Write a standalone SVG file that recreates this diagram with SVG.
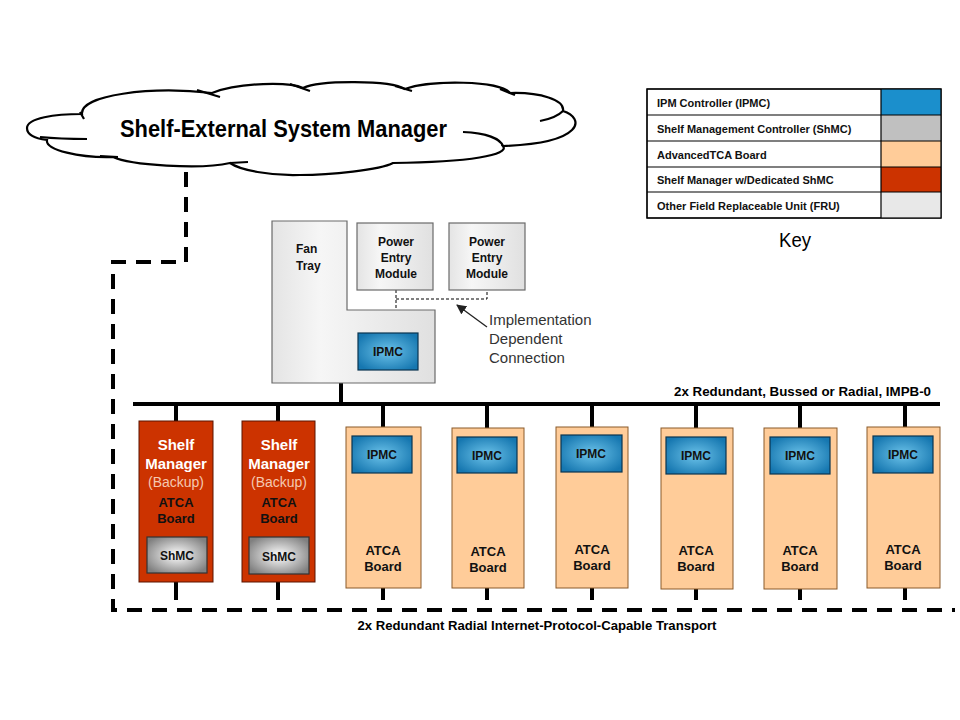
<svg xmlns="http://www.w3.org/2000/svg" width="960" height="720" viewBox="0 0 960 720">
<style>
text{font-family:"Liberation Sans",Arial,sans-serif;}
.b{font-weight:bold;}
.c{text-anchor:middle;}
.key{font-size:11px;font-weight:bold;fill:#111;}
.wire{stroke:#000;stroke-width:4;fill:none;}
.dash{stroke:#000;stroke-width:4;fill:none;stroke-dasharray:15 10;}
.thin{stroke:#000;stroke-width:1;fill:none;stroke-dasharray:3 2;}
.board{fill:#ffcc99;stroke:#8a5a2a;stroke-width:1;}
.sm{fill:#cc3300;stroke:#5a1500;stroke-width:1;}
.ipmc{fill:url(#gBlue);stroke:#0b3550;stroke-width:1.2;}
.shmc{fill:url(#gGray);stroke:#333;stroke-width:1.2;}
.fru{fill:url(#gFru);stroke:#6a6a6a;stroke-width:1.2;}
.lbl{font-size:12px;font-weight:bold;fill:#111;}
.atca{font-size:13px;font-weight:bold;fill:#111;text-anchor:middle;}
</style>
<defs>
<radialGradient id="gBlue" cx="50%" cy="50%" r="60%">
<stop offset="0" stop-color="#6cc3ea"/>
<stop offset="1" stop-color="#1677b0"/>
</radialGradient>
<radialGradient id="gGray" cx="50%" cy="50%" r="60%">
<stop offset="0" stop-color="#ffffff"/>
<stop offset="1" stop-color="#808080"/>
</radialGradient>
<linearGradient id="gFru" x1="0" y1="0" x2="1" y2="0">
<stop offset="0" stop-color="#e4e4e4"/>
<stop offset="0.3" stop-color="#f6f6f6"/>
<stop offset="1" stop-color="#e0e0e0"/>
</linearGradient>
<marker id="arr" markerWidth="10" markerHeight="10" refX="9" refY="5" orient="auto" markerUnits="userSpaceOnUse">
<path d="M0,0 L10,5 L0,10 Z" fill="#222"/>
</marker>
</defs>
<rect width="960" height="720" fill="#fff"/>

<g id="cloud">
<path d="M27,128 C27,118 55,114 82,114 C80,95 150,86 212,93 C240,82 290,82 303,88 C320,80 390,80 405,89 C430,80 500,80 510,93 C540,92 565,100 563,111 C585,118 585,143 503,146 C510,155 470,162 393,163 C380,170 330,175 300,175 C270,176 240,170 230,163 C200,170 130,165 113,157 C80,158 45,150 47,140 C30,138 27,132 27,128 Z" fill="#fff" stroke="#000" stroke-width="2.2"/>
<path d="M40,137 Q60,139 87,139 M197,90 L220,97 M80,112 L84,119 M290,84 L310,91 M395,86 L412,91 M500,89 L515,95 M563,111 Q556,118 540,121 M503,146 C500,138 485,133 463,132 M230,163 L248,162 M100,156 L118,157" fill="none" stroke="#000" stroke-width="2.2"/>
<text x="120" y="137" class="b" font-size="24" textLength="327" lengthAdjust="spacingAndGlyphs" fill="#000">Shelf-External System Manager</text>
</g>

<g id="key">
<rect x="647" y="89" width="294" height="129" fill="#fff" stroke="#000" stroke-width="1.2"/>
<rect x="881" y="89" width="60" height="26" fill="#1b8fcc"/>
<rect x="881" y="115" width="60" height="26" fill="#c0c0c0"/>
<rect x="881" y="141" width="60" height="26" fill="#ffcc99"/>
<rect x="881" y="167" width="60" height="25" fill="#cc3300"/>
<rect x="881" y="192" width="60" height="26" fill="#e8e8e8"/>
<path d="M647,115 H941 M647,141 H941 M647,167 H941 M647,192 H941 M881,89 V218" stroke="#000" stroke-width="1.2"/>
<rect x="647" y="89" width="294" height="129" fill="none" stroke="#000" stroke-width="1.2"/>
<text x="657" y="107" class="key">IPM Controller (IPMC)</text>
<text x="657" y="133" class="key">Shelf Management Controller (ShMC)</text>
<text x="657" y="159" class="key">AdvancedTCA Board</text>
<text x="657" y="184" class="key">Shelf Manager w/Dedicated ShMC</text>
<text x="657" y="210" class="key">Other Field Replaceable Unit (FRU)</text>
<text x="795" y="247" class="c" font-size="20" textLength="32" lengthAdjust="spacingAndGlyphs" fill="#000">Key</text>
</g>

<g id="connectors">
<path class="dash" d="M186,172 V262 H113 V610 H955"/>
<path class="wire" d="M133,404 H940"/>
<path class="wire" d="M341,383 V404 M176,404 V421 M278,404 V421 M383,404 V427 M487,404 V428 M592,404 V427 M696,404 V428 M800,404 V428 M905,404 V427"/>
<path class="wire" d="M176,582 V600 M278,582 V600 M383,588 V600 M487,588 V600 M592,588 V600 M696,589 V600 M800,589 V600 M905,588 V600"/>
<path class="thin" d="M396,290 V310 M396,299 H487 V290"/>
<line x1="487" y1="327" x2="457" y2="305" stroke="#222" stroke-width="1.3" marker-end="url(#arr)"/>
<text x="931" y="396" class="b" font-size="13" text-anchor="end" textLength="257" lengthAdjust="spacingAndGlyphs" fill="#000">2x Redundant, Bussed or Radial, IMPB-0</text>
<text x="537" y="630" class="b c" font-size="13" textLength="359" lengthAdjust="spacingAndGlyphs" fill="#000">2x Redundant Radial Internet-Protocol-Capable Transport</text>
<text x="489" y="325" font-size="15" fill="#333">Implementation</text>
<text x="489" y="344" font-size="15" fill="#333">Dependent</text>
<text x="489" y="363" font-size="15" fill="#333">Connection</text>
</g>

<g id="fan-tray">
<path class="fru" d="M272,221 H347 V310 H435 V383 H272 Z"/>
<text x="296" y="253" class="lbl">Fan</text>
<text x="296" y="270" class="lbl">Tray</text>
<rect class="ipmc" x="358" y="333" width="60" height="37"/>
<text x="388" y="356" class="lbl c">IPMC</text>
</g>

<g id="pem-1">
<rect class="fru" x="357" y="223" width="76" height="67"/>
<text x="396" y="246" class="lbl c">Power</text>
<text x="396" y="262" class="lbl c">Entry</text>
<text x="396" y="278" class="lbl c">Module</text>
</g>
<g id="pem-2">
<rect class="fru" x="449" y="223" width="76" height="67"/>
<text x="487" y="246" class="lbl c">Power</text>
<text x="487" y="262" class="lbl c">Entry</text>
<text x="487" y="278" class="lbl c">Module</text>
</g>

<g id="shelf-manager-1">
<rect class="sm" x="139" y="421" width="74" height="161"/>
<text x="176" y="450" class="b c" font-size="15" fill="#fff">Shelf</text>
<text x="176" y="469" class="b c" font-size="15" fill="#fff">Manager</text>
<text x="176" y="487" class="c" font-size="14" fill="#f5c8b0">(Backup)</text>
<text x="176" y="507" class="atca" fill="#3a0800">ATCA</text>
<text x="176" y="523" class="atca" fill="#3a0800">Board</text>
<rect class="shmc" x="147" y="537" width="60" height="36"/>
<text x="177" y="560" class="lbl c">ShMC</text>
</g>
<g id="shelf-manager-2">
<rect class="sm" x="242" y="421" width="73" height="161"/>
<text x="279" y="450" class="b c" font-size="15" fill="#fff">Shelf</text>
<text x="279" y="469" class="b c" font-size="15" fill="#fff">Manager</text>
<text x="279" y="487" class="c" font-size="14" fill="#f5c8b0">(Backup)</text>
<text x="279" y="507" class="atca" fill="#3a0800">ATCA</text>
<text x="279" y="523" class="atca" fill="#3a0800">Board</text>
<rect class="shmc" x="249" y="537" width="60" height="37"/>
<text x="279" y="561" class="lbl c">ShMC</text>
</g>

<g id="atca-1">
<rect class="board" x="346" y="427" width="75" height="161"/>
<rect class="ipmc" x="352" y="436" width="60" height="37"/>
<text x="382" y="459" class="lbl c">IPMC</text>
<text x="383" y="555" class="atca">ATCA</text>
<text x="383" y="571" class="atca">Board</text>
</g>
<g id="atca-2">
<rect class="board" x="452" y="428" width="72" height="160"/>
<rect class="ipmc" x="457" y="437" width="60" height="36"/>
<text x="487" y="460" class="lbl c">IPMC</text>
<text x="488" y="556" class="atca">ATCA</text>
<text x="488" y="572" class="atca">Board</text>
</g>
<g id="atca-3">
<rect class="board" x="556" y="427" width="72" height="161"/>
<rect class="ipmc" x="561" y="435" width="61" height="37"/>
<text x="591" y="458" class="lbl c">IPMC</text>
<text x="592" y="554" class="atca">ATCA</text>
<text x="592" y="570" class="atca">Board</text>
</g>
<g id="atca-4">
<rect class="board" x="661" y="428" width="72" height="161"/>
<rect class="ipmc" x="666" y="437" width="60" height="37"/>
<text x="696" y="460" class="lbl c">IPMC</text>
<text x="696" y="555" class="atca">ATCA</text>
<text x="696" y="571" class="atca">Board</text>
</g>
<g id="atca-5">
<rect class="board" x="764" y="428" width="73" height="161"/>
<rect class="ipmc" x="770" y="437" width="60" height="37"/>
<text x="800" y="460" class="lbl c">IPMC</text>
<text x="800" y="555" class="atca">ATCA</text>
<text x="800" y="571" class="atca">Board</text>
</g>
<g id="atca-6">
<rect class="board" x="867" y="427" width="73" height="161"/>
<rect class="ipmc" x="873" y="436" width="60" height="37"/>
<text x="903" y="459" class="lbl c">IPMC</text>
<text x="903" y="554" class="atca">ATCA</text>
<text x="903" y="570" class="atca">Board</text>
</g>
</svg>
